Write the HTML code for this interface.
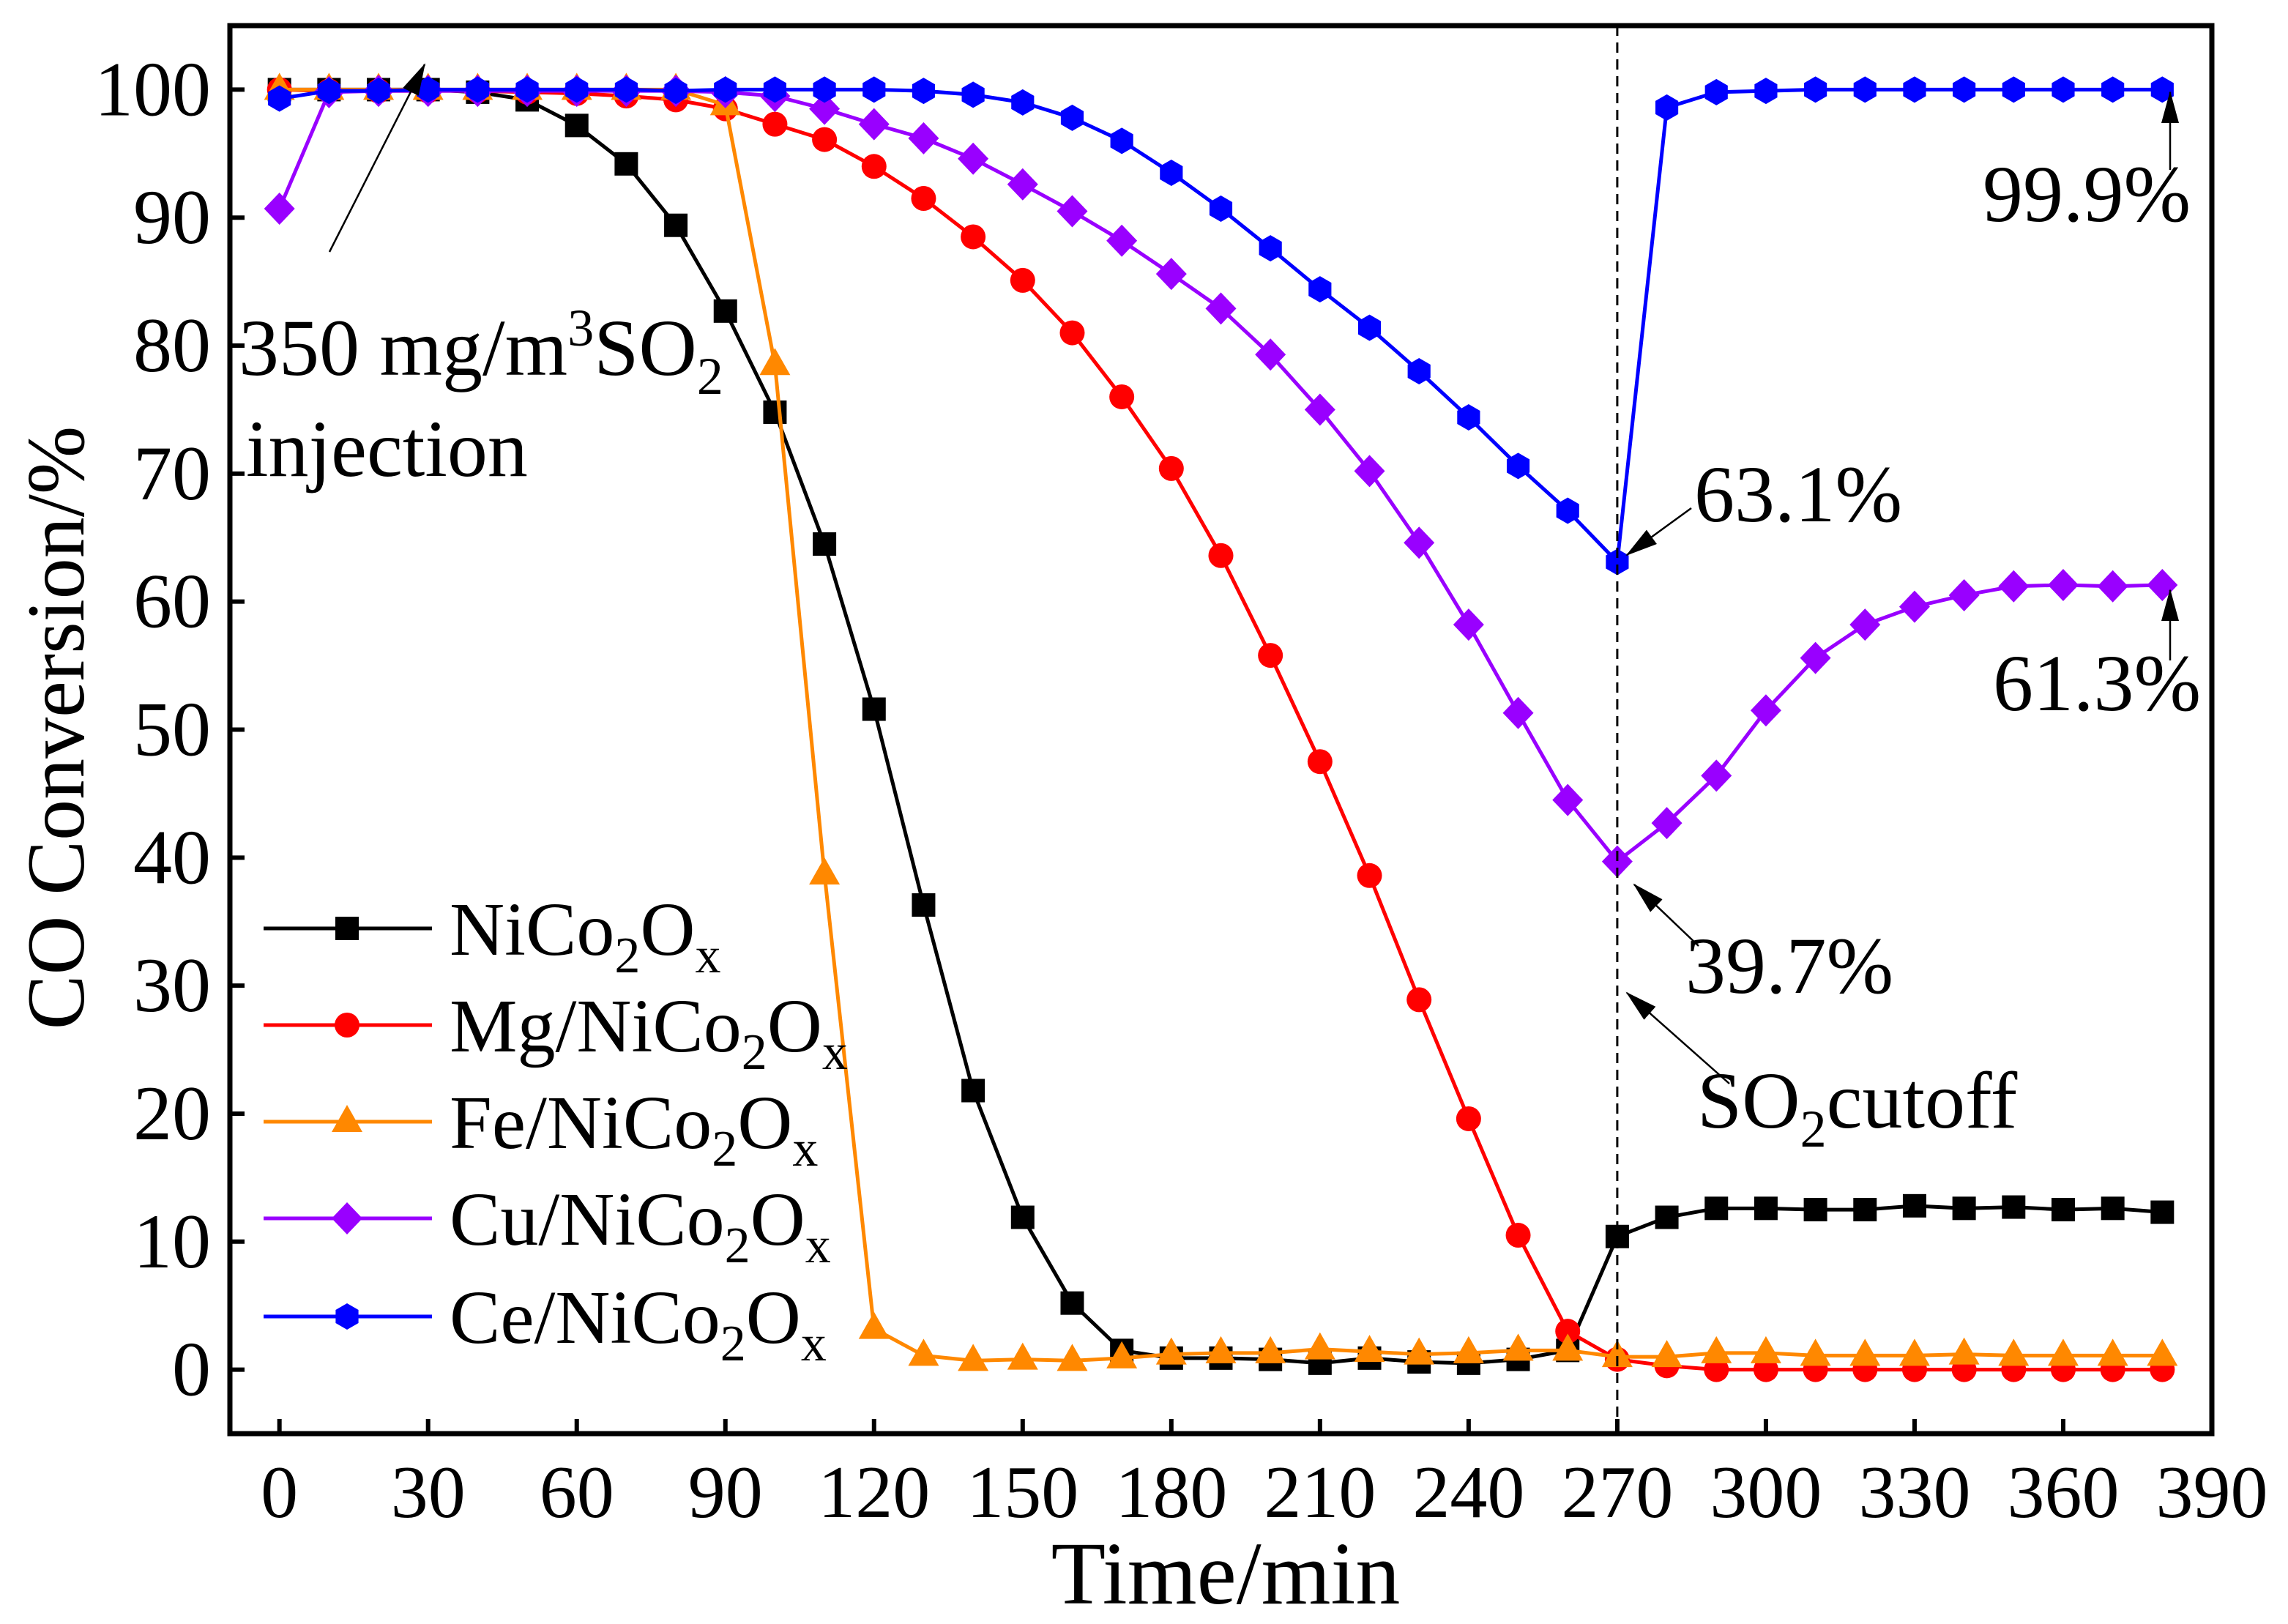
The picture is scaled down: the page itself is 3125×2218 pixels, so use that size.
<!DOCTYPE html>
<html><head><meta charset="utf-8">
<style>
html,body{margin:0;padding:0;background:#fff;}
svg{display:block;font-family:"Liberation Serif","Times New Roman",serif;}
</style></head>
<body>
<svg id="chart" width="3125" height="2218" viewBox="0 0 3125 2218" xmlns="http://www.w3.org/2000/svg">
<defs>
<marker id="ah" markerWidth="44" markerHeight="24" refX="42" refY="12" orient="auto" markerUnits="userSpaceOnUse" viewBox="0 0 44 24"><path d="M0,0 L44,12 L0,24 z" fill="#000"/></marker>
</defs>
<rect x="314" y="35" width="2707" height="1923" fill="none" stroke="#000" stroke-width="7"/>
<g id="ticks"></g>
<g id="series"></g>
<line id="cutline" stroke="#000" stroke-width="3" stroke-dasharray="14,9"/>
<text transform="translate(114,994) rotate(-90)" text-anchor="middle" font-size="112">CO Conversion/%</text>
<text x="1674" y="2190" text-anchor="middle" font-size="122">Time/min</text>
<g id="legend"></g>
<g font-size="110">
<text x="326" y="512">350 mg/m<tspan dy="-40" font-size="72">3</tspan><tspan dy="40">SO</tspan><tspan dy="26" font-size="72">2</tspan></text>
<text x="336" y="650">injection</text>
<line x1="450" y1="344" x2="580" y2="88" stroke="#000" stroke-width="2.5" marker-end="url(#ah)"/>
<text x="2314" y="712">63.1%</text>
<line x1="2310" y1="694" x2="2222" y2="758" stroke="#000" stroke-width="2.5" marker-end="url(#ah)"/>
<text x="2302" y="1356">39.7%</text>
<line x1="2320" y1="1292" x2="2232" y2="1208" stroke="#000" stroke-width="2.5" marker-end="url(#ah)"/>
<text x="2318" y="1540">SO<tspan dy="26" font-size="72">2</tspan><tspan dy="-26">cutoff</tspan></text>
<line x1="2362" y1="1480" x2="2222" y2="1356" stroke="#000" stroke-width="2.5" marker-end="url(#ah)"/>
<text x="2708" y="302">99.9%</text>
<line x1="2964" y1="232" x2="2964" y2="126" stroke="#000" stroke-width="2.5" marker-end="url(#ah)"/>
<text x="2722" y="970">61.3%</text>
<line x1="2964" y1="902" x2="2964" y2="806" stroke="#000" stroke-width="2.5" marker-end="url(#ah)"/>
</g>
</svg>
<script>
const times = [0,10,20,30,40,50,60,70,80,90,100,110,120,130,140,150,160,170,180,190,200,210,220,230,240,250,260,270,280,290,300,310,320,330,340,350,360,370,380];
const niValues = [100,100,100,100,99.8,99.2,97.2,94.2,89.4,82.7,74.8,64.5,51.6,36.3,21.8,11.9,5.2,1.5,0.9,0.9,0.8,0.5,0.9,0.6,0.5,0.8,1.5,10.4,11.9,12.6,12.6,12.5,12.5,12.8,12.6,12.7,12.5,12.6,12.3];
const mgValues = [100,99.9,99.9,99.9,99.9,99.8,99.7,99.5,99.2,98.5,97.3,96.1,94,91.5,88.5,85.1,81,76,70.4,63.6,55.8,47.5,38.6,28.9,19.6,10.5,3.0,0.8,0.3,0,0,0,0,0,0,0,0,0,0];
const feValues = [100,100,100,100,100,100,100,100,100,98.8,78.5,38.7,3.2,1.1,0.7,0.8,0.7,0.9,1.2,1.3,1.3,1.6,1.4,1.2,1.3,1.5,1.5,1.0,1.0,1.3,1.3,1.1,1.1,1.1,1.2,1.1,1.1,1.1,1.1];
const cuValues = [90.7,99.8,99.9,99.9,99.9,99.9,99.9,99.9,99.9,99.8,99.5,98.5,97.3,96.2,94.6,92.6,90.5,88.2,85.6,82.9,79.3,75,70.2,64.6,58.2,51.3,44.5,39.7,42.7,46.4,51.5,55.6,58.2,59.6,60.5,61.2,61.3,61.2,61.3];
const ceValues = [99.3,99.9,99.9,100,100,100,100,100,99.9,100,100,100,100,99.9,99.6,99,97.8,96,93.5,90.7,87.6,84.4,81.4,78,74.4,70.6,67.1,63.1,98.6,99.8,99.9,100,100,100,100,100,100,100,100];
const xTicks = [0,30,60,90,120,150,180,210,240,270,300,330,360,390];
const yTicks = [0,10,20,30,40,50,60,70,80,90,100];
const seriesNames = ["NiCo2Ox","Mg/NiCo2Ox","Fe/NiCo2Ox","Cu/NiCo2Ox","Ce/NiCo2Ox"];
const cutoffTime = 270;

const NS="http://www.w3.org/2000/svg";
const X0=314,X1=3021,Y0=35,Y1=1958,XMIN=-10,XMAX=390,YMIN=-5,YMAX=105;
function sx(v){return X0+(v-XMIN)/(XMAX-XMIN)*(X1-X0);}
function sy(v){return Y1-(v-YMIN)/(YMAX-YMIN)*(Y1-Y0);}
function mk(tag,attrs,parent){const e=document.createElementNS(NS,tag);for(const k in attrs)e.setAttribute(k,attrs[k]);parent.appendChild(e);return e;}

const tg=document.getElementById('ticks');
xTicks.forEach(t=>{
  const l=mk('line',{x1:sx(t),x2:sx(t),y1:Y1,y2:Y1-20,stroke:'#000','stroke-width':6},tg);
  
  
  const tx=mk('text',{x:sx(t),y:2072,'text-anchor':'middle','font-size':102},tg);
  tx.textContent=t;
  
  
});
yTicks.forEach(t=>{
  const l=mk('line',{x1:X0,x2:X0+20,y1:sy(t),y2:sy(t),stroke:'#000','stroke-width':6},tg);
  
  
  const tx=mk('text',{x:288,y:sy(t)+35,'text-anchor':'end','font-size':106},tg);
  tx.textContent=t;
  
  
});

const cl=document.getElementById('cutline');
cl.setAttribute('x1',sx(cutoffTime));cl.setAttribute('x2',sx(cutoffTime));
cl.setAttribute('y1',Y0);cl.setAttribute('y2',Y1);

function marker(shape,color,x,y,parent){
  let e;
  if(shape==='square') e=mk('rect',{x:x-16,y:y-16,width:32,height:32,fill:color},parent);
  else if(shape==='circle') e=mk('circle',{cx:x,cy:y,r:17,fill:color},parent);
  else if(shape==='triangle') e=mk('polygon',{points:`${x},${y-23} ${x-21},${y+14} ${x+21},${y+14}`,fill:color},parent);
  else if(shape==='diamond') e=mk('polygon',{points:`${x},${y-22} ${x+21},${y} ${x},${y+22} ${x-21},${y}`,fill:color},parent);
  else {const r=18;let p=[];for(let i=0;i<6;i++){const a=Math.PI/2+i*Math.PI/3;p.push((x+r*Math.cos(a))+','+(y+r*Math.sin(a)));}e=mk('polygon',{points:p.join(' '),fill:color},parent);}
  return e;
}
const sg=document.getElementById('series');
const defs=[
 {vals:niValues,color:'#000000',shape:'square',key:'ni'},
 {vals:mgValues,color:'#ff0000',shape:'circle',key:'mg'},
 {vals:feValues,color:'#ff8800',shape:'triangle',key:'fe'},
 {vals:cuValues,color:'#9900ff',shape:'diamond',key:'cu'},
 {vals:ceValues,color:'#0000ff',shape:'hexagon',key:'ce'}
];
defs.forEach(d=>{
  const g=mk('g',{},sg);
  
  
  const pts=times.map((t,i)=>sx(t)+','+sy(d.vals[i])).join(' ');
  const pl=mk('polyline',{points:pts,fill:'none',stroke:d.color,'stroke-width':5,'stroke-linejoin':'round'},g);
  
  
  times.forEach((t,i)=>{
    const m=marker(d.shape,d.color,sx(t),sy(d.vals[i]),g);
    
    
  });
});

const lg=document.getElementById('legend');
const legendY=[1268,1400,1532,1664,1798];
defs.forEach((d,i)=>{
  const y=legendY[i];
  const g=mk('g',{},lg);
  
  
  mk('line',{x1:360,x2:590,y1:y,y2:y,stroke:d.color,'stroke-width':5},g);
  marker(d.shape,d.color,474,y,g);
  const t=mk('text',{x:614,y:y+36,'font-size':104},g);
  const name=seriesNames[i];
  const pre=name.replace('NiCo2Ox','');
  t.innerHTML=pre+'NiCo<tspan dy="24" font-size="70">2</tspan><tspan dy="-24">O</tspan><tspan dy="24" font-size="70">x</tspan>';
});
</script>
</body></html>
